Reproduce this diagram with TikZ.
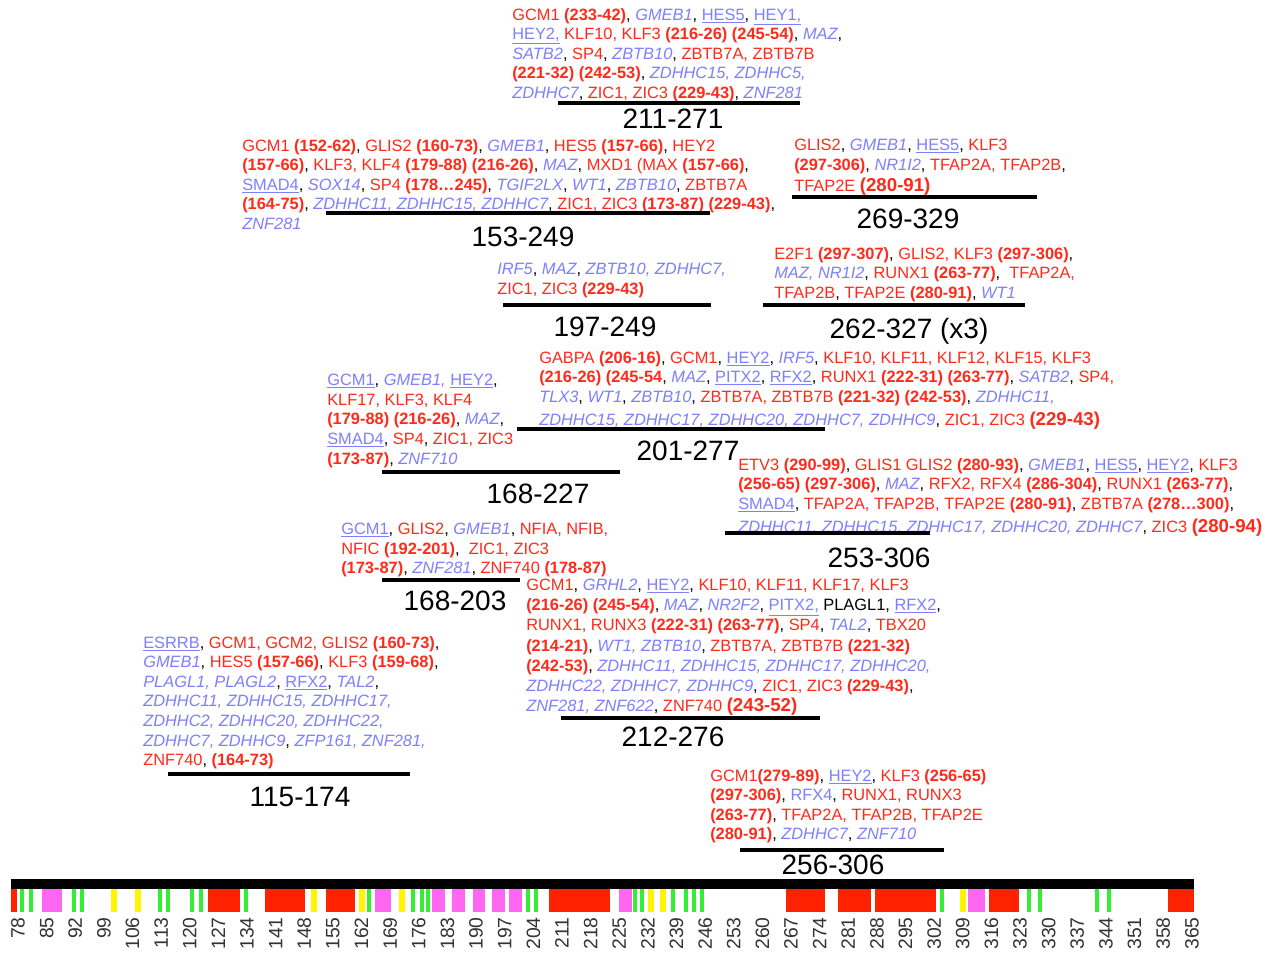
\documentclass[tikz,border=0pt]{standalone}
\usepackage{fontspec}
\setmainfont{Liberation Sans}
\definecolor{genered}{HTML}{FF2A1A}
\definecolor{geneblue}{HTML}{7F7FFF}
\definecolor{stripered}{HTML}{FF2200}
\definecolor{stripegreen}{HTML}{33EE33}
\definecolor{stripeyellow}{HTML}{FFF500}
\definecolor{stripepink}{HTML}{FF66F2}
\newcommand\tfr[1]{\textcolor{genered}{#1}}
\newcommand\tfb[1]{\textcolor{genered}{\bfseries#1}}
\newcommand\tfbig[1]{\textcolor{genered}{\fontsize{14}{14.7}\selectfont\bfseries#1}}
\newcommand\tfi[1]{\textcolor{geneblue}{\itshape#1}}
\newcommand\tfu[1]{\textcolor{geneblue}{\underline{#1}}}
\newcommand\tfbl[1]{\textcolor{geneblue}{#1}}

\begin{document}
\begin{tikzpicture}[x=0.75pt,y=-0.75pt,
  genelist/.style={anchor=north west,inner sep=0,align=left,font=\fontsize{12.3}{14.7}\selectfont},
  rangebar/.style={line width=2.3pt},
  rangelabel/.style={anchor=base,inner sep=0,font=\fontsize{21}{21}\selectfont},
  poslabel/.style={rotate=90,anchor=east,inner sep=0,text=black!80,font=\fontsize{14.5}{14.5}\selectfont}]
  \useasboundingbox[fill=white] (0,0) rectangle (1277,956);

  \node[genelist] (tf211) at (512,8) {\tfr{GCM1} \tfb{(233-42)}, \tfi{GMEB1}, \tfu{HES5}, \tfu{HEY1,}\\
    \tfu{HEY2,} \tfr{KLF10, KLF3} \tfb{(216-26) (245-54)}, \tfi{MAZ},\\
    \tfi{SATB2}, \tfr{SP4}, \tfi{ZBTB10}, \tfr{ZBTB7A, ZBTB7B}\\
    \tfb{(221-32) (242-53)}, \tfi{ZDHHC15, ZDHHC5,}\\
    \tfi{ZDHHC7}, \tfr{ZIC1, ZIC3} \tfb{(229-43)}, \tfi{ZNF281}};
  \draw[rangebar] (558,103) -- (800,103);
  \node[rangelabel] (r211) at (673,128) {211-271};

  \node[genelist] (tf153) at (242,139) {\tfr{GCM1} \tfb{(152-62)}, \tfr{GLIS2} \tfb{(160-73)}, \tfi{GMEB1}, \tfr{HES5} \tfb{(157-66)}, \tfr{HEY2}\\
    \tfb{(157-66)}, \tfr{KLF3, KLF4} \tfb{(179-88) (216-26)}, \tfi{MAZ}, \tfr{MXD1 (MAX} \tfb{(157-66)},\\
    \tfu{SMAD4}, \tfi{SOX14}, \tfr{SP4} \tfb{(178…245)}, \tfi{TGIF2LX}, \tfi{WT1}, \tfi{ZBTB10}, \tfr{ZBTB7A}\\
    \tfb{(164-75)}, \tfi{ZDHHC11, ZDHHC15, ZDHHC7}, \tfr{ZIC1, ZIC3} \tfb{(173-87) (229-43)},\\
    \tfi{ZNF281}};
  \draw[rangebar] (326,213) -- (710,213);
  \node[rangelabel] (r153) at (523,246) {153-249};

  \node[genelist] (tf269) at (794,139) {\tfr{GLIS2}, \tfi{GMEB1}, \tfu{HES5}, \tfr{KLF3}\\
    \tfb{(297-306)}, \tfi{NR1I2}, \tfr{TFAP2A, TFAP2B},\\[1.5pt]
    \tfr{TFAP2E} \tfbig{(280-91)}};
  \draw[rangebar] (792,197) -- (1037,197);
  \node[rangelabel] (r269) at (908,228) {269-329};

  \node[genelist] (tf197) at (497,263) {\tfi{IRF5}, \tfi{MAZ}, \tfi{ZBTB10, ZDHHC7,}\\
    \tfr{ZIC1, ZIC3} \tfb{(229-43)}};
  \draw[rangebar] (503,305) -- (711,305);
  \node[rangelabel] (r197) at (605,336) {197-249};

  \node[genelist] (tf262) at (774,247) {\tfr{E2F1} \tfb{(297-307)}, \tfr{GLIS2, KLF3} \tfb{(297-306)},\\
    \tfi{MAZ, NR1I2}, \tfr{RUNX1} \tfb{(263-77)}, \ \tfr{TFAP2A,}\\
    \tfr{TFAP2B}, \tfr{TFAP2E} \tfb{(280-91)}, \tfi{WT1}};
  \draw[rangebar] (763,305) -- (1025,305);
  \node[rangelabel] (r262) at (909,338) {262-327 (x3)};

  \node[genelist] (tf201) at (539,351) {\tfr{GABPA} \tfb{(206-16)}, \tfr{GCM1}, \tfu{HEY2}, \tfi{IRF5}, \tfr{KLF10, KLF11, KLF12, KLF15, KLF3}\\
    \tfb{(216-26) (245-54}, \tfi{MAZ}, \tfu{PITX2}, \tfu{RFX2}, \tfr{RUNX1} \tfb{(222-31) (263-77)}, \tfi{SATB2}, \tfr{SP4,}\\
    \tfi{TLX3}, \tfi{WT1}, \tfi{ZBTB10}, \tfr{ZBTB7A, ZBTB7B} \tfb{(221-32) (242-53)}, \tfi{ZDHHC11,}\\[2.5pt]
    \tfi{ZDHHC15, ZDHHC17, ZDHHC20, ZDHHC7, ZDHHC9}, \tfr{ZIC1, ZIC3} \tfbig{(229-43)}};
  \draw[rangebar] (517,429) -- (825,429);
  \node[rangelabel] (r201) at (688,460) {201-277};

  \node[genelist] (tf168a) at (327,374) {\tfu{GCM1}, \tfi{GMEB1,} \tfu{HEY2},\\
    \tfr{KLF17, KLF3, KLF4}\\
    \tfb{(179-88) (216-26)}, \tfi{MAZ},\\
    \tfu{SMAD4}, \tfr{SP4}, \tfr{ZIC1, ZIC3}\\
    \tfb{(173-87)}, \tfi{ZNF710}};
  \draw[rangebar] (382,472) -- (620,472);
  \node[rangelabel] (r168a) at (538,503) {168-227};

  \node[genelist] (tf253) at (738,458) {\tfr{ETV3} \tfb{(290-99)}, \tfr{GLIS1 GLIS2} \tfb{(280-93)}, \tfi{GMEB1}, \tfu{HES5}, \tfu{HEY2}, \tfr{KLF3}\\
    \tfb{(256-65) (297-306)}, \tfi{MAZ}, \tfr{RFX2, RFX4} \tfb{(286-304)}, \tfr{RUNX1} \tfb{(263-77)},\\
    \tfu{SMAD4}, \tfr{TFAP2A, TFAP2B, TFAP2E} \tfb{(280-91)}, \tfr{ZBTB7A} \tfb{(278…300)},\\[2.5pt]
    \tfi{ZDHHC11, ZDHHC15, ZDHHC17, ZDHHC20, ZDHHC7}, \tfr{ZIC3} \tfbig{(280-94)}};
  \draw[rangebar] (725,533) -- (930,533);
  \node[rangelabel] (r253) at (879,567) {253-306};

  \node[genelist] (tf168b) at (341,523) {\tfu{GCM1}, \tfr{GLIS2}, \tfi{GMEB1}, \tfr{NFIA, NFIB,}\\
    \tfr{NFIC} \tfb{(192-201)}, \ \tfr{ZIC1, ZIC3}\\
    \tfb{(173-87)}, \tfi{ZNF281}, \tfr{ZNF740} \tfb{(178-87)}};
  \draw[rangebar] (382,580) -- (520,580);
  \node[rangelabel] (r168b) at (455,610) {168-203};

  \node[genelist,font=\fontsize{12.3}{15.1}\selectfont] (tf212) at (526,579) {\tfr{GCM1}, \tfi{GRHL2}, \tfu{HEY2}, \tfr{KLF10, KLF11, KLF17, KLF3}\\
    \tfb{(216-26) (245-54)}, \tfi{MAZ}, \tfi{NR2F2}, \tfu{PITX2,} PLAGL1, \tfu{RFX2},\\
    \tfr{RUNX1, RUNX3} \tfb{(222-31) (263-77)}, \tfr{SP4}, \tfi{TAL2}, \tfr{TBX20}\\
    \tfb{(214-21)}, \tfi{WT1, ZBTB10}, \tfr{ZBTB7A, ZBTB7B} \tfb{(221-32)}\\
    \tfb{(242-53)}, \tfi{ZDHHC11, ZDHHC15, ZDHHC17, ZDHHC20,}\\
    \tfi{ZDHHC22, ZDHHC7, ZDHHC9}, \tfr{ZIC1, ZIC3} \tfb{(229-43)},\\
    \tfi{ZNF281, ZNF622}, \tfr{ZNF740} \tfbig{(243-52)}};
  \draw[rangebar] (561,718) -- (820,718);
  \node[rangelabel] (r212) at (673,746) {212-276};

  \node[genelist] (tf115) at (143,636) {\tfu{ESRRB}, \tfr{GCM1, GCM2, GLIS2} \tfb{(160-73)},\\
    \tfi{GMEB1}, \tfr{HES5} \tfb{(157-66)}, \tfr{KLF3} \tfb{(159-68)},\\
    \tfi{PLAGL1, PLAGL2}, \tfu{RFX2}, \tfi{TAL2},\\
    \tfi{ZDHHC11, ZDHHC15, ZDHHC17,}\\
    \tfi{ZDHHC2, ZDHHC20, ZDHHC22,}\\
    \tfi{ZDHHC7, ZDHHC9}, \tfi{ZFP161, ZNF281,}\\
    \tfr{ZNF740}, \tfb{(164-73)}};
  \draw[rangebar] (168,774) -- (410,774);
  \node[rangelabel] (r115) at (300,806) {115-174};

  \node[genelist] (tf256) at (710,769) {\tfr{GCM1}\tfb{(279-89)}, \tfu{HEY2}, \tfr{KLF3} \tfb{(256-65)}\\
    \tfb{(297-306)}, \tfbl{RFX4}, \tfr{RUNX1, RUNX3}\\
    \tfb{(263-77)}, \tfr{TFAP2A, TFAP2B, TFAP2E}\\
    \tfb{(280-91)}, \tfi{ZDHHC7}, \tfi{ZNF710}};
  \draw[rangebar] (740,850) -- (944,850);
  \node[rangelabel] (r256) at (833,874) {256-306};

  \fill[black] (11,879) rectangle (1194,889);
  \foreach \xa/\xb in {11/17,208/240,265/305,326/355,549/610,786/825,838/871,875/936,989/1019,1168/1194}
    \fill[stripered] (\xa,889) rectangle (\xb,912);
  \foreach \xa/\xb in {42/62,375/391,432/445,452/465,473/485,492/505,509/522,619/632,968/985}
    \fill[stripepink] (\xa,889) rectangle (\xb,912);
  \foreach \xc in {22,31,74,82,160,168,192,201,246,369,413,422,428,528,536,635,642,673,686,694,702,942,1029,1040,1097,1109}
    \fill[stripegreen] (\xc-1.6,889) rectangle (\xc+1.6,912);
  \foreach \xc in {114,138,314,362,402,651,663,963}
    \fill[stripeyellow] (\xc-3,889) rectangle (\xc+3,912);
  \foreach \n in {78,85,...,365}
    \node[poslabel] (p\n) at ({18+(\n-78)*4.09},917) {\n};
\end{tikzpicture}
\end{document}
